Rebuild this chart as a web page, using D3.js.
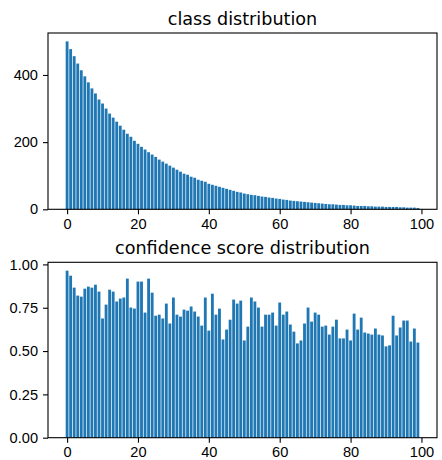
<!DOCTYPE html>
<html>
<head>
<meta charset="utf-8">
<script src="https://cdn.jsdelivr.net/npm/d3@7"></script>
<style>
  body { margin: 0; background: #fff; }
  svg { display: block; font-family: "DejaVu Sans", sans-serif; }
  .tick text { font-size: 14.6px; fill: #000; }
  .tick line { stroke: #000; stroke-width: 1.1; }
  .title { font-size: 17.6px; fill: #000; }
</style>
</head>
<body>
<div class="charts"></div>
<script>
// class index 0..99
const classIds = d3.range(100);

const classCounts = [
  500, 477, 456, 434, 414, 396, 378, 360, 345, 327,
  315, 300, 285, 273, 261, 249, 237, 225, 216, 204,
  195, 186, 178, 170, 163, 156, 148, 142, 136, 130,
  124, 118, 112, 106, 103, 97, 94, 88, 85, 82,
  76, 73, 70, 67, 64, 61, 58, 55, 52, 50,
  47, 45, 43, 42, 40, 38, 37, 35, 34, 32,
  31, 29, 28, 26, 25, 24, 23, 22, 21, 20,
  19, 18, 17, 16, 15, 15, 14, 13, 13, 12,
  12, 11, 10, 10, 10, 9, 9, 8, 8, 8,
  7, 7, 7, 7, 6, 6, 5, 5, 5, 4
];

const confScores = [
  0.964, 0.935, 0.866, 0.820, 0.814, 0.860, 0.872, 0.866, 0.883, 0.843,
  0.688, 0.768, 0.854, 0.843, 0.786, 0.803, 0.809, 0.918, 0.751, 0.745,
  0.901, 0.901, 0.722, 0.918, 0.837, 0.704, 0.710, 0.688, 0.774, 0.659,
  0.809, 0.710, 0.699, 0.739, 0.733, 0.757, 0.728, 0.699, 0.647, 0.809,
  0.618, 0.831, 0.710, 0.745, 0.567, 0.624, 0.681, 0.797, 0.774, 0.791,
  0.561, 0.641, 0.809, 0.786, 0.751, 0.641, 0.710, 0.710, 0.722, 0.647,
  0.780, 0.710, 0.728, 0.653, 0.612, 0.544, 0.561, 0.659, 0.751, 0.670,
  0.722, 0.710, 0.641, 0.647, 0.595, 0.641, 0.681, 0.573, 0.573, 0.624,
  0.561, 0.716, 0.624, 0.693, 0.607, 0.601, 0.595, 0.630, 0.595, 0.590,
  0.527, 0.533, 0.704, 0.590, 0.636, 0.676, 0.676, 0.555, 0.630, 0.549
];

const xTicks = [0, 20, 40, 60, 80, 100];
const countTicks = [0, 200, 400];
const confTicks = [0, 0.25, 0.5, 0.75, 1.0];

function drawBars(svg, opts) {
  const { values, top, bottom, left, right, yTicks, yFormat, title } = opts;
  const barW = 0.8;
  const n = values.length;
  const span = (n - 1) + barW;
  const pad = span * 0.05;

  const x = d3.scaleLinear()
    .domain([-barW / 2 - pad, n - 1 + barW / 2 + pad])
    .range([left, right]);

  const y = d3.scaleLinear()
    .domain([0, d3.max(values) * 1.05])
    .range([bottom, top]);

  const g = svg.append('g');

  g.selectAll('rect.bar')
    .data(values)
    .enter()
    .append('rect')
    .attr('class', 'bar')
    .attr('x', (d, i) => x(classIds[i] - barW / 2))
    .attr('width', (d, i) => x(classIds[i] + barW / 2) - x(classIds[i] - barW / 2))
    .attr('y', d => y(d))
    .attr('height', d => y(0) - y(d))
    .attr('fill', '#1f77b4');

  g.append('g')
    .attr('transform', `translate(0, ${bottom})`)
    .call(d3.axisBottom(x).tickValues(xTicks).tickSize(5).tickPadding(4).tickSizeOuter(0))
    .call(a => a.select('.domain').remove());

  g.append('g')
    .attr('transform', `translate(${left}, 0)`)
    .call(d3.axisLeft(y).tickValues(yTicks).tickFormat(yFormat).tickSize(5).tickPadding(5).tickSizeOuter(0))
    .call(a => a.select('.domain').remove());

  g.append('rect')
    .attr('x', left)
    .attr('y', top)
    .attr('width', right - left)
    .attr('height', bottom - top)
    .attr('fill', 'none')
    .attr('stroke', '#000')
    .attr('stroke-width', 1.1);

  g.append('text')
    .attr('class', 'title')
    .attr('x', (left + right) / 2)
    .attr('y', top - 8.5)
    .attr('text-anchor', 'middle')
    .text(title);
}

const w = 442;
const h = 460;

const svg = d3.select('.charts')
  .append('svg')
  .attr('width', w)
  .attr('height', h);

drawBars(svg, {
  values: classCounts,
  top: 33, bottom: 209.3, left: 48, right: 437,
  yTicks: countTicks,
  yFormat: d3.format('d'),
  title: 'class distribution'
});

drawBars(svg, {
  values: confScores,
  top: 262.3, bottom: 437.7, left: 48, right: 437,
  yTicks: confTicks,
  yFormat: d3.format('.2f'),
  title: 'confidence score distribution'
});
</script>
</body>
</html>
